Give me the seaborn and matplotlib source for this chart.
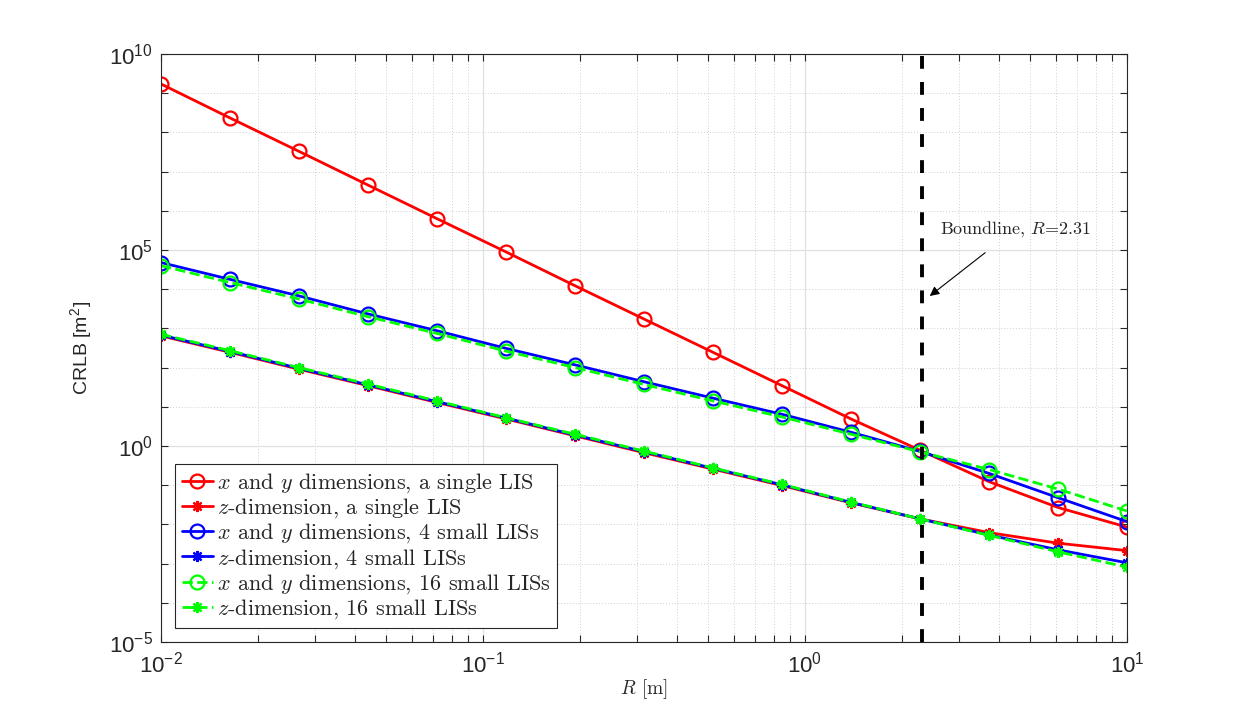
import matplotlib
matplotlib.use("Agg")
import matplotlib.pyplot as plt
import matplotlib.ticker as mticker
import seaborn as sns
import numpy as np

# sample radii R [m]
r_vals = [0.01, 0.0164, 0.0268, 0.0439, 0.072, 0.118, 0.193, 0.316,
          0.518, 0.848, 1.39, 2.28, 3.73, 6.11, 10.0]

# CRLB values as log10 exponents
xy_single = [9.235, 8.367, 7.518, 6.658, 5.798, 4.949, 4.089, 3.240,
             2.39, 1.54, 0.689, -0.11, -0.91, -1.57, -2.07]
z_single = [2.81, 2.39, 1.96, 1.54, 1.11, 0.69, 0.26, -0.17,
            -0.59, -1.01, -1.45, -1.86, -2.21, -2.48, -2.67]
xy_4 = [4.68, 4.25, 3.83, 3.37, 2.94, 2.49, 2.07, 1.64,
        1.22, 0.81, 0.35, -0.14, -0.70, -1.32, -1.93]
z_4 = [2.83, 2.41, 1.98, 1.56, 1.13, 0.71, 0.28, -0.145,
       -0.57, -0.99, -1.44, -1.86, -2.27, -2.65, -2.98]
xy_16 = [4.60, 4.17, 3.75, 3.30, 2.87, 2.42, 2.00, 1.57,
         1.15, 0.74, 0.30, -0.15, -0.60, -1.10, -1.66]
z_16 = [2.85, 2.43, 2.00, 1.58, 1.15, 0.72, 0.30, -0.13,
        -0.56, -0.98, -1.43, -1.86, -2.28, -2.70, -3.09]

labels = [r"$x$ and $y$ dimensions, a single LIS",
          r"$z$-dimension, a single LIS",
          r"$x$ and $y$ dimensions, 4 small LISs",
          r"$z$-dimension, 4 small LISs",
          r"$x$ and $y$ dimensions, 16 small LISs",
          r"$z$-dimension, 16 small LISs"]

boundline = 2.31

sns.set_style("ticks")
plt.rcParams["font.family"] = ["Liberation Sans", "DejaVu Sans"]
plt.rcParams["mathtext.fontset"] = "cm"
plt.rcParams["axes.unicode_minus"] = False

fig = plt.figure(figsize=(12.46, 7.21), dpi=100)
ax = fig.add_axes([0.1292, 0.1096, 0.7753, 0.8155])

asterisk = (8, 2, 0)
series = [
    (xy_single, (1, 0, 0), "o", "-"),
    (z_single, (1, 0, 0), asterisk, "-"),
    (xy_4, (0, 0, 1), "o", "-"),
    (z_4, (0, 0, 1), asterisk, "-"),
    (xy_16, (0, 1, 0), "o", "--"),
    (z_16, (0, 1, 0), asterisk, "--"),
]

for (vals, col, mk, ls), lab in zip(series, labels):
    yv = 10.0 ** np.array(vals)
    if mk == "o":
        sns.lineplot(x=r_vals, y=yv, ax=ax, color=col, linestyle=ls, lw=2,
                     marker="o", markersize=10, mfc="none", mec=col, mew=1.6,
                     label=lab, sort=False)
    else:
        sns.lineplot(x=r_vals, y=yv, ax=ax, color=col, linestyle=ls, lw=2,
                     marker=mk, markersize=8, mec=col, mew=1.6,
                     label=lab, sort=False)

ax.axvline(boundline, color="black", lw=2.8, linestyle=(0, (3.3, 3.4)), zorder=5)

ax.set_xscale("log")
ax.set_yscale("log")
ax.set_xlim(1e-2, 1e1)
ax.set_ylim(1e-5, 1e10)

ax.set_yticks([1e-5, 1e0, 1e5, 1e10])
ax.set_yticks([10.0 ** k for k in range(-5, 11) if k % 5], minor=True)
ax.yaxis.set_minor_formatter(mticker.NullFormatter())
ax.xaxis.set_major_locator(mticker.LogLocator(base=10))
ax.xaxis.set_minor_locator(mticker.LogLocator(base=10, subs=np.arange(2, 10)))
ax.xaxis.set_minor_formatter(mticker.NullFormatter())
fmt = mticker.FuncFormatter(lambda v, p: r"$\mathregular{10^{%d}}$" % round(np.log10(v)))
ax.xaxis.set_major_formatter(fmt)
ax.yaxis.set_major_formatter(fmt)

ax.tick_params(which="both", direction="in", top=True, right=True,
               length=5, width=0.8, color="#262626", labelsize=16)
ax.tick_params(axis="x", pad=7)
ax.tick_params(axis="y", pad=6)
for sp in ax.spines.values():
    sp.set_color("#262626")
    sp.set_linewidth(0.8)

ax.set_axisbelow(True)
ax.grid(which="major", color="#e0e0e0", lw=0.9, linestyle="-")
ax.grid(which="minor", color="#d0d0d0", lw=0.7, linestyle=(0, (1, 2)))

ax.set_xlabel(r"$R$ [m]", family="cmr10", fontsize=14, labelpad=0)
ax.set_ylabel(r"CRLB [m$^\mathregular{2}$]", fontsize=14, labelpad=10)

ax.annotate(r"Boundline, $R$=2.31", xy=(2.44, 6.7e3), xytext=(2.62, 3.4e5),
            textcoords="data", family="cmr10", fontsize=13, va="center", ha="left",
            arrowprops=dict(arrowstyle="-|>", color="black", lw=0.8,
                            shrinkA=12, shrinkB=0, mutation_scale=14))

leg = ax.legend(loc="lower left", bbox_to_anchor=(0.0145, 0.024), borderaxespad=0,
                prop={"family": "cmr10", "size": 16}, frameon=True, fancybox=False,
                edgecolor="#262626", framealpha=1, handlelength=1.4,
                handletextpad=0.2, labelspacing=0.07, borderpad=0.3)
leg.get_frame().set_linewidth(0.8)

fig.savefig("out.png", dpi=100)
